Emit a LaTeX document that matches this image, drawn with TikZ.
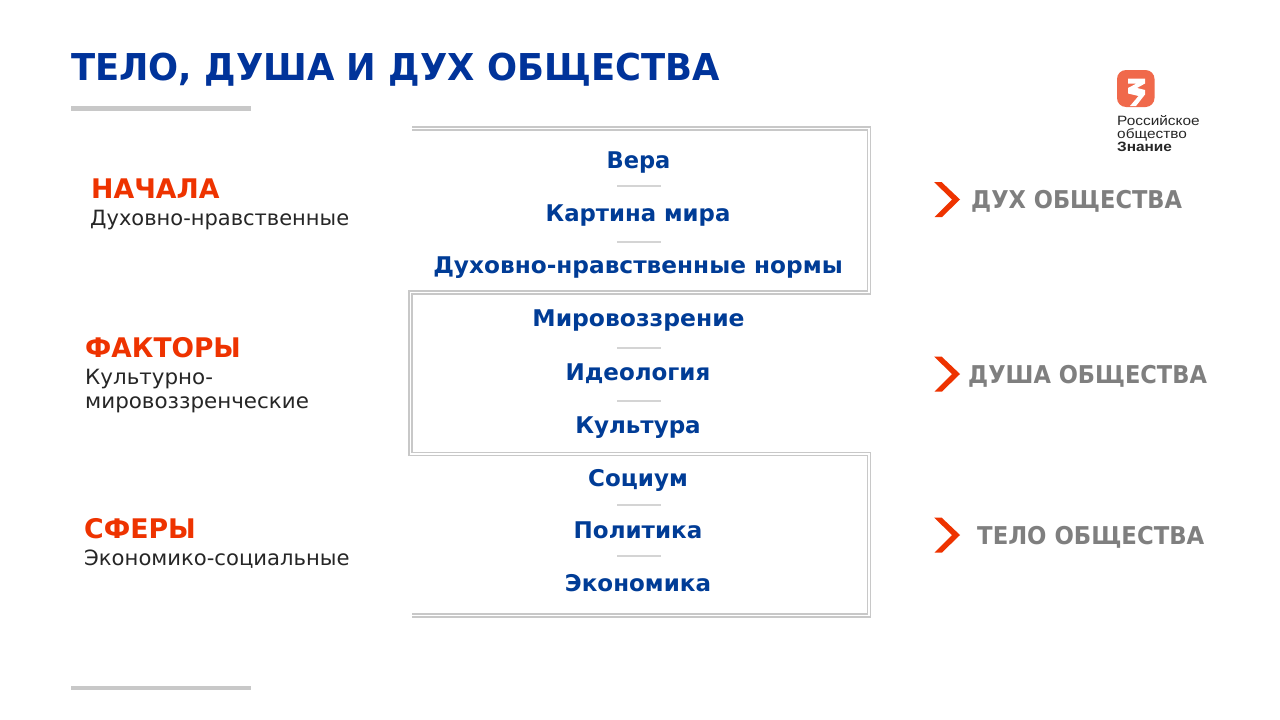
\documentclass[tikz,border=0pt]{standalone}
\usepackage{fontspec}
\setmainfont{DejaVu Sans}
\newfontfamily\logofont{Liberation Sans}
\definecolor{navy}{HTML}{00339A}
\definecolor{midblue}{HTML}{003C96}
\definecolor{redor}{HTML}{EE3300}
\definecolor{greytxt}{HTML}{7F7F7F}
\definecolor{rulegrey}{HTML}{C8C8C8}
\definecolor{seplin}{HTML}{D4D4D4}
\definecolor{logored}{HTML}{F0694B}
\newcommand{\sx}[2]{\scalebox{#1}[1]{#2}}
\tikzset{
 x=1pt,y=-1pt,
 titletxt/.style={anchor=west,inner sep=0pt,text=navy,font=\fontsize{37}{37}\selectfont\bfseries},
 item/.style={anchor=center,inner sep=0pt,text=midblue,font=\fontsize{23}{23}\selectfont\bfseries},
 head/.style={anchor=west,inner sep=0pt,text=redor,font=\fontsize{27}{27}\selectfont\bfseries},
 sub/.style={anchor=west,inner sep=0pt,text=black!85,font=\fontsize{21}{21}\selectfont},
 side/.style={anchor=west,inner sep=0pt,text=greytxt,font=\fontsize{24.5}{24.5}\selectfont\bfseries},
 logotxt/.style={anchor=west,inner sep=0pt,text=black!85,font=\logofont\fontsize{13.5}{13.5}\selectfont},
 barline/.style={rulegrey,line width=4.5pt},
 sepline/.style={seplin,line width=1.5pt},
 frame/.style={draw=rulegrey,line width=1.8pt,double=white,double distance=1.1pt,miter limit=10},
 chev/.style={fill=redor,draw=none},
}
\begin{document}
\begin{tikzpicture}
\useasboundingbox (0,0) rectangle (1280,720);
\fill[white] (0,0) rectangle (1280,720);
\node[titletxt] (title) at (71,70) {\sx{.956}{ТЕЛО, ДУША И ДУХ ОБЩЕСТВА}};
\draw[barline] (71,108.5) -- (251,108.5);
\draw[barline] (71,688) -- (251,688);

\draw[frame] (412,128.5) -- (869,128.5) -- (869,292.5) -- (410.5,292.5) -- (410.5,454) -- (869,454) -- (869,615.5) -- (412,615.5);

\node[head] (h1) at (91,189) {\sx{.99}{НАЧАЛА}};
\node[sub] (s1) at (90,220) {\sx{1.0}{Духовно-нравственные}};
\node[head] (h2) at (85,348) {\sx{.98}{ФАКТОРЫ}};
\node[sub] (s2a) at (85,379) {\sx{1.02}{Культурно-}};
\node[sub] (s2b) at (85,405) {\sx{1.02}{мировоззренческие}};
\node[head] (h3) at (84,529) {\sx{.99}{СФЕРЫ}};
\node[sub] (s3) at (84,559) {\sx{1.007}{Экономико-социальные}};

\node[item] (i1) at (638.5,163) {\sx{.98}{Вера}};
\node[item] (i2) at (638,216) {\sx{.99}{Картина мира}};
\node[item] (i3) at (638,268) {\sx{1.01}{Духовно-нравственные нормы}};
\node[item] (i4) at (638.5,321) {\sx{1.02}{Мировоззрение}};
\node[item] (i5) at (638,373.5) {\sx{1.0}{Идеология}};
\node[item] (i6) at (638,427.5) {\sx{1.0}{Культура}};
\node[item] (i7) at (638,480) {\sx{1.0}{Социум}};
\node[item] (i8) at (638,530.5) {\sx{1.0}{Политика}};
\node[item] (i9) at (638,583.5) {\sx{1.0}{Экономика}};
\foreach \yy in {186,242,348,401,505,556} \draw[sepline] (617,\yy) -- (661,\yy);

\foreach \cy in {199.5,374,535}
 \fill[chev] (934,\cy-17.5) -- (941.5,\cy-17.5) -- (960,\cy) -- (942,\cy+17.5) -- (934.5,\cy+17.5) -- (952,\cy) -- cycle;
\node[side] (d1) at (971,201) {\sx{.92}{ДУХ ОБЩЕСТВА}};
\node[side] (d2) at (968,376) {\sx{.92}{ДУША ОБЩЕСТВА}};
\node[side] (d3) at (977,537) {\sx{.93}{ТЕЛО ОБЩЕСТВА}};

\fill[logored,rounded corners=9pt] (1117,70) rectangle (1154.5,107);
\fill[white] (1128,78.5) -- (1145,78.5) -- (1145,83.5) -- (1137,88) -- (1145,90) -- (1145,94.5) -- (1136,106) -- (1130,106) -- (1138.5,96) -- (1128,93.5) -- (1128,88) -- (1136.5,83.5) -- (1128,83.5) -- cycle;
\node[logotxt] (l1) at (1117,121) {\sx{1.14}{Российское}};
\node[logotxt] (l2) at (1117,135) {\sx{1.14}{общество}};
\node[logotxt,font=\logofont\fontsize{13.5}{13.5}\selectfont\bfseries] (l3) at (1117,147) {\sx{1.14}{Знание}};
\end{tikzpicture}
\end{document}
